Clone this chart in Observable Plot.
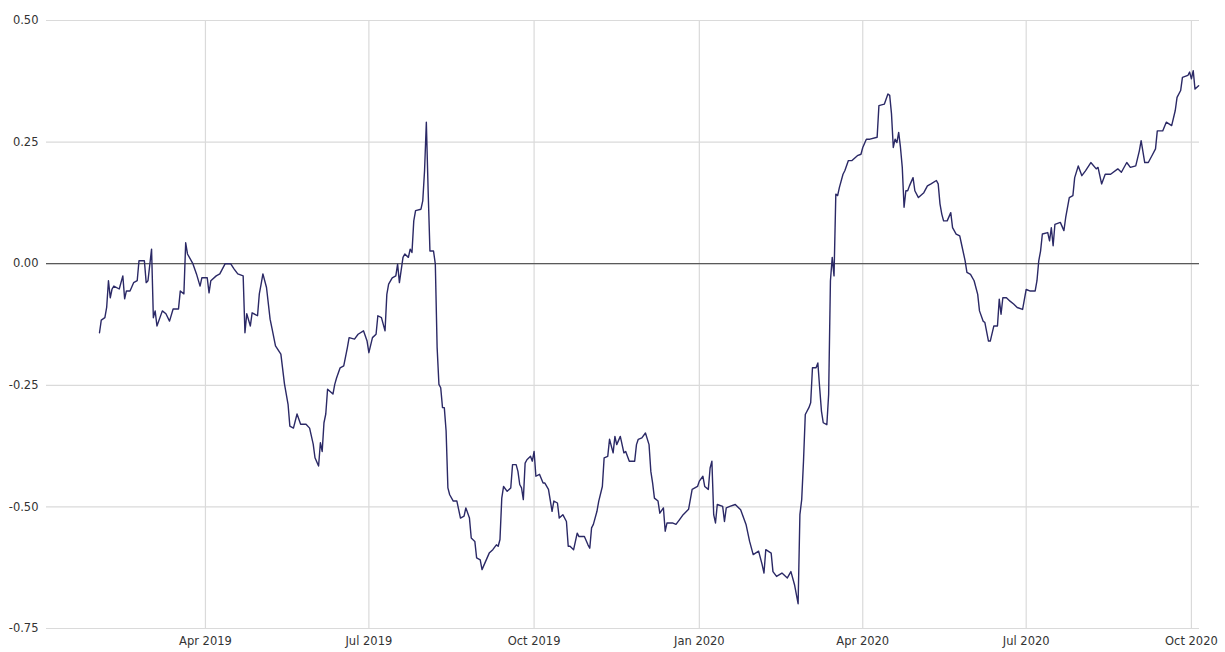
<!DOCTYPE html>
<html>
<head>
<meta charset="utf-8">
<script src="https://cdn.jsdelivr.net/npm/d3@7"></script>
<script src="https://cdn.jsdelivr.net/npm/@observablehq/plot@0.6"></script>
<style>
  html, body { margin: 0; padding: 0; background: #fff; }
  #chart svg { display: block; }
</style>
</head>
<body>
<div id="chart"></div>
<script>
const dates = [
"2019-02-01","2019-02-02","2019-02-04","2019-02-05","2019-02-06","2019-02-07","2019-02-08","2019-02-09","2019-02-12","2019-02-14",
"2019-02-15","2019-02-16","2019-02-18","2019-02-20","2019-02-22","2019-02-23","2019-02-26","2019-02-27","2019-02-28","2019-03-02",
"2019-03-03","2019-03-04","2019-03-05","2019-03-08","2019-03-10","2019-03-12","2019-03-14","2019-03-17","2019-03-18","2019-03-20",
"2019-03-21","2019-03-22","2019-03-25","2019-03-27","2019-03-29","2019-03-30","2019-04-02","2019-04-03","2019-04-04","2019-04-07",
"2019-04-09","2019-04-12","2019-04-15","2019-04-17","2019-04-19","2019-04-22","2019-04-23","2019-04-24","2019-04-26","2019-04-27",
"2019-04-30","2019-05-01","2019-05-02","2019-05-03","2019-05-05","2019-05-07","2019-05-08","2019-05-10","2019-05-13","2019-05-15",
"2019-05-17","2019-05-18","2019-05-20","2019-05-22","2019-05-24","2019-05-27","2019-05-29","2019-05-31","2019-06-01","2019-06-03",
"2019-06-04","2019-06-05","2019-06-06","2019-06-07","2019-06-08","2019-06-11","2019-06-12","2019-06-13","2019-06-15","2019-06-17",
"2019-06-19","2019-06-20","2019-06-23","2019-06-25","2019-06-28","2019-06-30","2019-07-01","2019-07-03","2019-07-05","2019-07-06",
"2019-07-08","2019-07-10","2019-07-11","2019-07-12","2019-07-14","2019-07-16","2019-07-17","2019-07-18","2019-07-20","2019-07-21",
"2019-07-23","2019-07-24","2019-07-25","2019-07-26","2019-07-27","2019-07-30","2019-07-31","2019-08-01","2019-08-02","2019-08-03",
"2019-08-04","2019-08-06","2019-08-07","2019-08-08","2019-08-09","2019-08-10","2019-08-11","2019-08-12","2019-08-13","2019-08-14",
"2019-08-15","2019-08-17","2019-08-19","2019-08-21","2019-08-23","2019-08-24","2019-08-26","2019-08-27","2019-08-29","2019-08-30",
"2019-09-01","2019-09-02","2019-09-04","2019-09-06","2019-09-08","2019-09-10","2019-09-11","2019-09-12","2019-09-13","2019-09-14",
"2019-09-16","2019-09-18","2019-09-19","2019-09-21","2019-09-22","2019-09-23","2019-09-24","2019-09-25","2019-09-26","2019-09-27",
"2019-09-29","2019-09-30","2019-10-01","2019-10-02","2019-10-04","2019-10-06","2019-10-07","2019-10-09","2019-10-11","2019-10-12",
"2019-10-14","2019-10-15","2019-10-17","2019-10-19","2019-10-20","2019-10-21","2019-10-23","2019-10-25","2019-10-26","2019-10-29",
"2019-10-31","2019-11-01","2019-11-02","2019-11-03","2019-11-05","2019-11-06","2019-11-08","2019-11-09","2019-11-11","2019-11-12",
"2019-11-14","2019-11-15","2019-11-16","2019-11-18","2019-11-20","2019-11-21","2019-11-23","2019-11-26","2019-11-27","2019-11-28",
"2019-11-30","2019-12-02","2019-12-04","2019-12-05","2019-12-06","2019-12-07","2019-12-09","2019-12-10","2019-12-12","2019-12-13",
"2019-12-14","2019-12-17","2019-12-19","2019-12-21","2019-12-23","2019-12-26","2019-12-28","2019-12-31","2020-01-01","2020-01-03",
"2020-01-04","2020-01-06","2020-01-07","2020-01-08","2020-01-09","2020-01-10","2020-01-11","2020-01-14","2020-01-15","2020-01-16",
"2020-01-18","2020-01-21","2020-01-24","2020-01-27","2020-01-29","2020-01-31","2020-02-03","2020-02-05","2020-02-06","2020-02-07",
"2020-02-10","2020-02-11","2020-02-13","2020-02-16","2020-02-19","2020-02-21","2020-02-23","2020-02-25","2020-02-26","2020-02-27",
"2020-02-28","2020-02-29","2020-03-02","2020-03-03","2020-03-04","2020-03-06","2020-03-07","2020-03-08","2020-03-09","2020-03-10",
"2020-03-12","2020-03-13","2020-03-14","2020-03-15","2020-03-16","2020-03-17","2020-03-18","2020-03-19","2020-03-21","2020-03-22",
"2020-03-24","2020-03-26","2020-03-29","2020-03-31","2020-04-01","2020-04-03","2020-04-05","2020-04-09","2020-04-10","2020-04-13",
"2020-04-15","2020-04-16","2020-04-17","2020-04-18","2020-04-19","2020-04-20","2020-04-21","2020-04-22","2020-04-23","2020-04-24",
"2020-04-25","2020-04-26","2020-04-27","2020-04-29","2020-04-30","2020-05-02","2020-05-05","2020-05-07","2020-05-09","2020-05-12",
"2020-05-13","2020-05-14","2020-05-15","2020-05-16","2020-05-18","2020-05-20","2020-05-21","2020-05-23","2020-05-25","2020-05-26",
"2020-05-28","2020-05-29","2020-05-31","2020-06-02","2020-06-04","2020-06-05","2020-06-07","2020-06-08","2020-06-10","2020-06-11",
"2020-06-13","2020-06-15","2020-06-16","2020-06-17","2020-06-18","2020-06-20","2020-06-22","2020-06-24","2020-06-26","2020-06-29",
"2020-07-01","2020-07-03","2020-07-06","2020-07-07","2020-07-08","2020-07-09","2020-07-10","2020-07-13","2020-07-14","2020-07-15",
"2020-07-16","2020-07-17","2020-07-20","2020-07-22","2020-07-23","2020-07-25","2020-07-27","2020-07-28","2020-07-30","2020-08-01",
"2020-08-03","2020-08-06","2020-08-09","2020-08-10","2020-08-12","2020-08-14","2020-08-17","2020-08-21","2020-08-23","2020-08-26",
"2020-08-28","2020-08-31","2020-09-02","2020-09-03","2020-09-05","2020-09-07","2020-09-09","2020-09-11","2020-09-12","2020-09-15",
"2020-09-17","2020-09-20","2020-09-22","2020-09-23","2020-09-25","2020-09-26","2020-09-29","2020-09-30","2020-10-01","2020-10-02",
"2020-10-03","2020-10-05"
];

const values = [
-0.142,-0.116,-0.111,-0.090,-0.035,-0.070,-0.052,-0.046,-0.052,-0.025,
-0.072,-0.056,-0.056,-0.039,-0.035,0.006,0.006,-0.039,-0.035,0.030,
-0.111,-0.097,-0.128,-0.097,-0.103,-0.118,-0.093,-0.093,-0.056,-0.062,
0.043,0.020,0.000,-0.021,-0.046,-0.029,-0.029,-0.060,-0.035,-0.025,
-0.021,0.000,0.000,-0.011,-0.021,-0.025,-0.142,-0.103,-0.128,-0.101,
-0.107,-0.062,-0.042,-0.021,-0.049,-0.114,-0.132,-0.169,-0.186,-0.247,
-0.289,-0.334,-0.338,-0.309,-0.330,-0.330,-0.338,-0.371,-0.399,-0.416,
-0.368,-0.386,-0.327,-0.309,-0.258,-0.268,-0.248,-0.235,-0.214,-0.210,
-0.173,-0.152,-0.155,-0.145,-0.138,-0.159,-0.183,-0.152,-0.145,-0.107,
-0.111,-0.138,-0.063,-0.042,-0.029,-0.025,-0.001,-0.039,0.013,0.020,
0.013,0.030,0.023,0.088,0.109,0.112,0.129,0.191,0.291,0.150,
0.026,0.026,-0.001,-0.172,-0.248,-0.255,-0.296,-0.296,-0.344,-0.461,
-0.475,-0.488,-0.488,-0.523,-0.519,-0.502,-0.523,-0.564,-0.571,-0.605,
-0.609,-0.629,-0.612,-0.595,-0.588,-0.578,-0.581,-0.567,-0.482,-0.458,
-0.468,-0.461,-0.413,-0.413,-0.427,-0.454,-0.461,-0.485,-0.410,-0.403,
-0.396,-0.406,-0.386,-0.437,-0.433,-0.451,-0.451,-0.464,-0.509,-0.488,
-0.492,-0.523,-0.516,-0.530,-0.581,-0.581,-0.588,-0.554,-0.561,-0.561,
-0.578,-0.585,-0.543,-0.536,-0.509,-0.488,-0.458,-0.399,-0.396,-0.361,
-0.389,-0.355,-0.372,-0.355,-0.389,-0.386,-0.406,-0.406,-0.372,-0.361,
-0.358,-0.348,-0.372,-0.427,-0.451,-0.482,-0.488,-0.513,-0.502,-0.550,
-0.533,-0.533,-0.536,-0.526,-0.516,-0.505,-0.464,-0.458,-0.447,-0.437,
-0.458,-0.464,-0.420,-0.406,-0.516,-0.533,-0.495,-0.499,-0.530,-0.502,
-0.499,-0.495,-0.506,-0.536,-0.571,-0.598,-0.591,-0.619,-0.636,-0.588,
-0.595,-0.633,-0.643,-0.636,-0.646,-0.633,-0.660,-0.699,-0.516,-0.485,
-0.406,-0.310,-0.296,-0.286,-0.214,-0.214,-0.204,-0.255,-0.303,-0.327,
-0.331,-0.269,-0.035,0.013,-0.025,0.143,0.140,0.157,0.184,0.191,
0.212,0.212,0.222,0.225,0.239,0.256,0.256,0.260,0.325,0.328,
0.349,0.346,0.308,0.239,0.256,0.249,0.270,0.239,0.198,0.116,
0.150,0.150,0.160,0.177,0.150,0.136,0.146,0.160,0.164,0.171,
0.164,0.123,0.102,0.088,0.088,0.105,0.074,0.061,0.057,0.040,
0.006,-0.018,-0.022,-0.035,-0.063,-0.097,-0.118,-0.121,-0.159,-0.159,
-0.128,-0.128,-0.073,-0.104,-0.070,-0.070,-0.077,-0.083,-0.090,-0.094,
-0.053,-0.056,-0.056,-0.035,0.006,0.026,0.061,0.064,0.047,0.074,
0.037,0.081,0.085,0.068,0.095,0.136,0.140,0.177,0.201,0.181,
0.191,0.208,0.195,0.198,0.164,0.184,0.184,0.195,0.188,0.208,
0.198,0.201,0.232,0.253,0.208,0.208,0.222,0.236,0.273,0.273,
0.291,0.284,0.315,0.342,0.356,0.383,0.387,0.394,0.380,0.397,
0.359,0.366
];

const xTickDates = ["2019-04-01","2019-07-01","2019-10-01","2020-01-01","2020-04-01","2020-07-01","2020-10-01"];
const yTicks = [-0.75, -0.5, -0.25, 0, 0.25, 0.5];
const xDomain = ["2019-01-02T12:00:00Z", "2020-10-05T12:00:00Z"];
const yDomain = [-0.75, 0.5];
const baseline = [0];

const data = dates.map((d, i) => ({date: new Date(d), value: values[i]}));
const xTicks = xTickDates.map(d => new Date(d));

const chart = Plot.plot({
  width: 1225,
  height: 652,
  marginLeft: 46,
  marginRight: 26,
  marginTop: 20,
  marginBottom: 24,
  style: {fontFamily: "DejaVu Sans, Verdana, sans-serif", fontSize: "11.5px", color: "#333", background: "#fff"},
  x: {type: "utc", domain: xDomain.map(d => new Date(d))},
  y: {domain: yDomain},
  marks: [
    Plot.gridY({ticks: yTicks, stroke: "#dadada", strokeOpacity: 1, strokeWidth: 1.2}),
    Plot.gridX({ticks: xTicks, stroke: "#dadada", strokeOpacity: 1, strokeWidth: 1.2}),
    Plot.ruleY(baseline, {stroke: "#5a5a5a", strokeWidth: 1.3}),
    Plot.lineY(data, {x: "date", y: "value", stroke: "#2b2966", strokeWidth: 1.4}),
    Plot.axisX({ticks: xTicks, tickFormat: d3.utcFormat("%b %Y"), tickSize: 0, tickPadding: 8, label: null}),
    Plot.axisY({ticks: yTicks, tickFormat: d => d.toFixed(2), tickSize: 0, tickPadding: 8, label: null})
  ]
});
document.getElementById("chart").appendChild(chart);
</script>
</body>
</html>
